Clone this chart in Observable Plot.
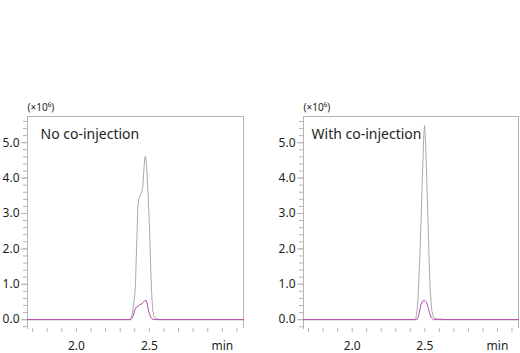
<!DOCTYPE html>
<html>
<head>
<meta charset="utf-8">
<script src="https://cdn.jsdelivr.net/npm/d3@7"></script>
<script src="https://cdn.jsdelivr.net/npm/@observablehq/plot@0.6"></script>
<style>
  html, body { margin: 0; padding: 0; background: #fff; }
  #wrap { position: relative; width: 520px; height: 353px; overflow: hidden; font-family: "Noto Sans", sans-serif; }
  #left, #right { position: absolute; top: 0; }
  #left { left: 0; }
  #right { left: 260px; }
</style>
</head>
<body>
<div id="wrap"><div id="left"></div><div id="right"></div></div>
<script>
// ---- data (retention time in min, intensity in ×10^6) ----
const panelTitles = ["No co-injection", "With co-injection"];
const unitLabel = "(×10⁶)";

const leftGrayTime = [1.665, 2.36, 2.365, 2.375, 2.385, 2.393, 2.40, 2.405, 2.41, 2.416, 2.421, 2.428, 2.438, 2.448, 2.456, 2.462, 2.468, 2.473, 2.479, 2.486, 2.493, 2.50, 2.508, 2.515, 2.522, 2.53, 2.54, 2.555, 2.57, 2.58, 3.145];
const leftGrayValue = [0, 0, 0.01, 0.05, 0.2, 0.45, 0.7, 1.0, 1.7, 2.5, 3.2, 3.42, 3.52, 3.62, 3.8, 4.2, 4.55, 4.62, 4.45, 4.0, 3.4, 2.72, 1.6, 0.8, 0.3, 0.1, 0.04, 0.02, 0.005, 0, 0];

const leftPinkTime = [1.665, 2.37, 2.38, 2.39, 2.399, 2.41, 2.422, 2.434, 2.45, 2.46, 2.468, 2.477, 2.485, 2.492, 2.50, 2.508, 2.516, 2.525, 2.54, 3.145];
const leftPinkValue = [0, 0, 0.03, 0.12, 0.26, 0.35, 0.38, 0.42, 0.45, 0.5, 0.53, 0.55, 0.45, 0.3, 0.17, 0.08, 0.03, 0.01, 0, 0];

const rightGrayTime = [1.665, 2.428, 2.44, 2.45, 2.456, 2.465, 2.474, 2.481, 2.488, 2.493, 2.498, 2.503, 2.509, 2.516, 2.522, 2.529, 2.536, 2.548, 2.56, 2.571, 2.59, 2.617, 2.65, 3.145];
const rightGrayValue = [0, 0, 0.07, 0.4, 0.85, 1.7, 2.75, 3.7, 4.59, 5.2, 5.49, 5.2, 4.59, 3.6, 2.75, 1.8, 0.9, 0.25, 0.07, 0.03, 0.02, 0.015, 0, 0];

const rightPinkTime = [1.665, 2.444, 2.455, 2.46, 2.467, 2.475, 2.485, 2.498, 2.51, 2.518, 2.525, 2.533, 2.545, 2.56, 3.145];
const rightPinkValue = [0, 0, 0.08, 0.16, 0.31, 0.44, 0.52, 0.545, 0.5, 0.42, 0.31, 0.18, 0.06, 0, 0];

const xDomain = [1.665, 3.145];
const yDomain = [-0.25, 5.74];
const yMajorTicks = [0, 1, 2, 3, 4, 5];
const yMinorTicks = [-0.2, 0, 0.2, 0.4, 0.6, 0.8, 1.0, 1.2, 1.4, 1.6, 1.8, 2.0, 2.2, 2.4, 2.6, 2.8, 3.0, 3.2, 3.4, 3.6, 3.8, 4.0, 4.2, 4.4, 4.6, 4.8, 5.0, 5.2, 5.4, 5.6];
const xMinorTicks = [1.7, 1.8, 1.9, 2.0, 2.1, 2.2, 2.3, 2.4, 2.5, 2.6, 2.7, 2.8, 2.9, 3.0, 3.1];
const xLabelTicks = [2.0, 2.5, 3.0];
const xLabelText = ["2.0", "2.5", "min"];

const toRows = (t, v) => t.map((d, i) => ({t: d, v: v[i]}));

const grayColor = "#ababab";
const pinkColor = "#b845ad";
const frameColor = "#b4b4b4";
const textColor = "#231f20";

function panel(title, gray, pink, marginLeft, marginRight, titleDx) {
  return Plot.plot({
    width: 260,
    height: 353,
    marginTop: 116,
    marginBottom: 25,
    marginLeft,
    marginRight,
    x: {domain: xDomain, axis: null, label: null},
    y: {domain: yDomain, axis: null, label: null},
    style: {fontFamily: "'Noto Sans', sans-serif", fontSize: "12px", color: textColor, background: "white"},
    marks: [
      // frame: left, top, right
      Plot.ruleX([xDomain[0]], {y1: yDomain[0] - 0.03, y2: yDomain[1], stroke: frameColor}),
      Plot.ruleX([xDomain[1]], {y1: yDomain[0], y2: yDomain[1], stroke: frameColor}),
      Plot.ruleY([yDomain[1]], {x1: xDomain[0], x2: xDomain[1], stroke: frameColor}),
      // y ticks
      Plot.axisY(yMinorTicks, {tickSize: 4, tickFormat: () => "", stroke: frameColor, label: null}),
      Plot.axisY(yMajorTicks, {tickSize: 6, tickPadding: 2, tickFormat: d => d.toFixed(1), stroke: frameColor, fill: textColor, fontSize: 12, label: null}),
      // x ticks
      Plot.axisX(xMinorTicks, {tickSize: 4, tickFormat: () => "", stroke: frameColor, label: null}),
      Plot.axisX(xLabelTicks, {tickSize: 0, tickPadding: 13, tickFormat: d => xLabelText[xLabelTicks.indexOf(d)], fill: textColor, fontSize: 12, label: null}),
      // data
      Plot.line(gray, {x: "t", y: "v", stroke: grayColor, strokeWidth: 1}),
      Plot.line(pink, {x: "t", y: "v", stroke: pinkColor, strokeWidth: 1}),
      // labels
      Plot.text([title], {frameAnchor: "top-left", dx: titleDx, dy: 22.7, textAnchor: "start", lineAnchor: "bottom", fontSize: 14, fill: textColor}),
      Plot.text([unitLabel], {frameAnchor: "top-left", dx: 0, dy: -6, textAnchor: "start", lineAnchor: "bottom", fontSize: 10, fill: textColor})
    ]
  });
}

document.getElementById("left").appendChild(panel(panelTitles[0], toRows(leftGrayTime, leftGrayValue), toRows(leftPinkTime, leftPinkValue), 27, 17, 13));
document.getElementById("right").appendChild(panel(panelTitles[1], toRows(rightGrayTime, rightGrayValue), toRows(rightPinkTime, rightPinkValue), 43, 2, 8));
</script>
</body>
</html>
